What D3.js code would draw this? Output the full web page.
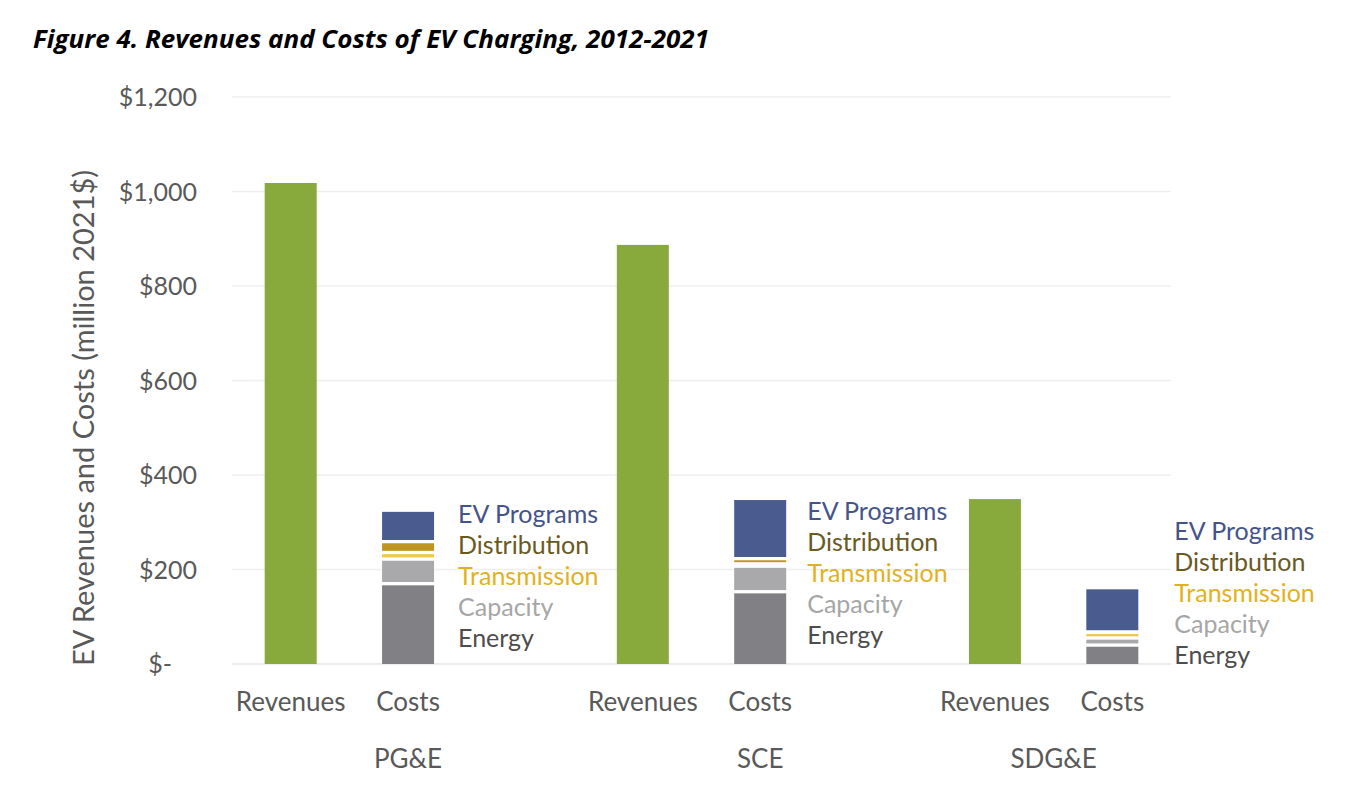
<!DOCTYPE html>
<html>
<head>
<meta charset="utf-8">
<script src="https://cdn.jsdelivr.net/npm/d3@7"></script>
<style>
  html, body { margin: 0; padding: 0; background: #ffffff; }
  svg { display: block; }
</style>
</head>
<body>
<svg id="chart" width="1346" height="793"></svg>
<script>
// ---------- DATA ----------
const groups = ["PG&E", "SCE", "SDG&E"];
const categories = ["Revenues", "Costs"];
const revenues = [1018, 887, 349];
const components = ["Energy", "Capacity", "Transmission", "Distribution", "EV Programs"];
const energy = [170, 153, 40];
const capacity = [52, 54, 15];
const transmission = [14, 5, 12];
const distribution = [23, 11, 1];
const evPrograms = [63, 124, 90];
const yTickValues = [0, 200, 400, 600, 800, 1000, 1200];
const yTickLabels = ["$-", "$200", "$400", "$600", "$800", "$1,000", "$1,200"];
const titleText = "Figure 4. Revenues and Costs of EV Charging, 2012-2021";
const yAxisTitle = "EV Revenues and Costs (million 2021$)";

// ---------- STYLE / LAYOUT ----------
const revenueColor = "#88a93c";
const barColors = {
  "Energy": "#818185",
  "Capacity": "#a9a9ab",
  "Transmission": "#f0c850",
  "Distribution": "#bf951e",
  "EV Programs": "#4a5b8f"
};
const labelColors = {
  "Energy": "#4d4d4d",
  "Capacity": "#a6a6a6",
  "Transmission": "#e2b21e",
  "Distribution": "#6a5a22",
  "EV Programs": "#44548a"
};
const textColor = "#595959";
const font = "Lato, 'Open Sans', sans-serif";

const svg = d3.select("#chart");
const plotLeft = 232, plotRight = 1171;

// slots: each group has Revenues, Costs, and (except the last) an empty slot
const slots = [];
groups.forEach((g, gi) => {
  categories.forEach(c => slots.push({ group: g, cat: c, key: g + "|" + c }));
  if (gi < groups.length - 1) slots.push({ group: g, cat: "", key: g + "|blank" });
});

const x = d3.scaleBand().domain(slots.map(s => s.key)).range([plotLeft, plotRight]).paddingInner(0).paddingOuter(0);
const y = d3.scaleLinear().domain([0, 1200]).range([664, 97]);
const barW = 52;
const cx = key => x(key) + x.bandwidth() / 2;

// ---------- TITLE ----------
svg.append("text")
  .attr("x", 33).attr("y", 48)
  .attr("font-family", "'Open Sans', sans-serif")
  .attr("font-weight", 700).attr("font-style", "italic")
  .attr("font-size", 25)
  .attr("textLength", 676).attr("lengthAdjust", "spacingAndGlyphs")
  .attr("fill", "#000")
  .text(titleText);

// ---------- GRIDLINES ----------
const grid = svg.append("g");
grid.selectAll("line.grid")
  .data(yTickValues.filter(v => v > 0))
  .join("line")
  .attr("x1", plotLeft).attr("x2", plotRight)
  .attr("y1", d => y(d)).attr("y2", d => y(d))
  .attr("stroke", "#efefef").attr("stroke-width", 1.5);

// ---------- Y AXIS ----------
const yAxis = d3.axisLeft(y).tickValues(yTickValues)
  .tickFormat((d, i) => yTickLabels[i]).tickSize(0).tickPadding(0);
const yg = svg.append("g").attr("transform", "translate(197,0)").call(yAxis);
yg.select(".domain").remove();
yg.selectAll("text")
  .attr("font-family", font).attr("font-size", 25)
  .attr("fill", textColor)
  .attr("dy", "0.35em")
  .attr("dx", d => d === 0 ? -25 : 0);

svg.append("text")
  .attr("transform", "translate(94,418) rotate(-90)")
  .attr("text-anchor", "middle")
  .attr("font-family", font).attr("font-size", 29)
  .attr("fill", textColor)
  .text(yAxisTitle);

// ---------- BASELINE ----------
svg.append("line")
  .attr("x1", plotLeft).attr("x2", plotRight)
  .attr("y1", y(0)).attr("y2", y(0))
  .attr("stroke", "#e6e6e6").attr("stroke-width", 1.5);

// ---------- REVENUE BARS ----------
svg.append("g").selectAll("rect")
  .data(groups.map((g, i) => ({ key: g + "|Revenues", v: revenues[i] })))
  .join("rect")
  .attr("x", d => cx(d.key) - barW / 2)
  .attr("width", barW)
  .attr("y", d => y(d.v))
  .attr("height", d => y(0) - y(d.v))
  .attr("fill", revenueColor);

// ---------- COST STACKS ----------
const costRows = groups.map((g, i) => ({
  group: g,
  "Energy": energy[i], "Capacity": capacity[i], "Transmission": transmission[i],
  "Distribution": distribution[i], "EV Programs": evPrograms[i]
}));
const stack = d3.stack().keys(components)(costRows);
const gap = 3.3;
const nLayers = components.length;
stack.forEach((layer, li) => {
  svg.append("g").selectAll("rect")
    .data(layer)
    .join("rect")
    .attr("x", d => cx(d.data.group + "|Costs") - barW / 2)
    .attr("width", barW)
    .attr("y", d => y(d[1]) + (li === nLayers - 1 ? 0 : gap / 2))
    .attr("height", d => {
      const top = y(d[1]) + (li === nLayers - 1 ? 0 : gap / 2);
      const bot = y(d[0]) - (li === 0 ? 0 : gap / 2);
      return Math.max(0, bot - top);
    })
    .attr("fill", barColors[layer.key]);
});

// ---------- COMPONENT LABELS (beside each cost bar) ----------
const labelOffsetX = [24, 21, 36];
const labelFirstBaseline = [523, 520, 540];
const labelStep = 31;
const labelOrder = components.slice().reverse();
groups.forEach((g, gi) => {
  const lx = cx(g + "|Costs") + barW / 2 + labelOffsetX[gi];
  svg.append("g").selectAll("text")
    .data(labelOrder)
    .join("text")
    .attr("x", lx)
    .attr("y", (d, i) => labelFirstBaseline[gi] + i * labelStep)
    .attr("font-family", font).attr("font-size", 25)
    .attr("fill", d => labelColors[d])
    .text(d => d);
});

// ---------- X AXIS LABELS ----------
svg.append("g").selectAll("text")
  .data(slots.filter(s => s.cat !== ""))
  .join("text")
  .attr("x", d => cx(d.key))
  .attr("y", 711)
  .attr("text-anchor", "middle")
  .attr("font-family", font).attr("font-size", 26)
  .attr("fill", textColor)
  .text(d => d.cat);

svg.append("g").selectAll("text")
  .data(groups)
  .join("text")
  .attr("x", g => d3.mean(slots.filter(s => s.group === g), s => cx(s.key)))
  .attr("y", 768)
  .attr("text-anchor", "middle")
  .attr("font-family", font).attr("font-size", 26)
  .attr("fill", textColor)
  .text(g => g);
</script>
</body>
</html>
